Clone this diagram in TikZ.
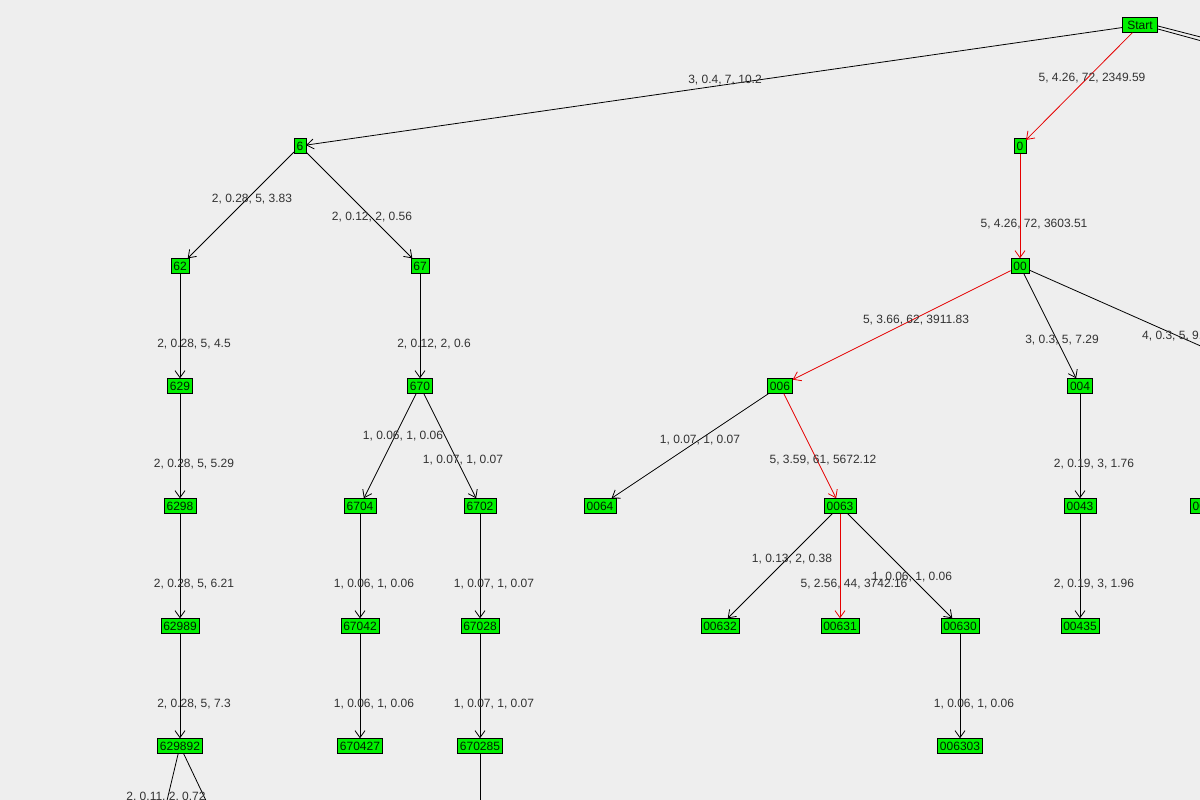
\documentclass[tikz,border=0pt]{standalone}
\usepackage{fontspec}
\setmainfont{Liberation Sans}
\usetikzlibrary{arrows.meta}
\definecolor{bg}{RGB}{238,238,238}
\definecolor{ngreen}{RGB}{0,240,0}
\definecolor{txt}{RGB}{50,50,50}
\begin{document}
\begin{tikzpicture}[x=1pt,y=-1pt,
  nd/.style={draw=black,fill=ngreen,inner xsep=2.5pt,inner ysep=1pt,minimum height=15pt,font=\fontsize{12}{13}\selectfont,text=black!70!green!40!black},
  ed/.style={draw=black,-{Straight Barb[length=7pt,width=10pt]},line width=0.8pt},
  red/.style={draw=red!90!black},
  lb/.style={font=\fontsize{12}{13}\selectfont,text=txt,inner sep=0pt}]
\fill[bg] (0,0) rectangle (1200,800);
\useasboundingbox (0,0) rectangle (1200,800);
\clip (0,0) rectangle (1200,800);
% nodes
\node[nd,inner xsep=5pt] (S) at (1140,25) {Start};
\node[nd] (n6) at (300,146) {6};
\node[nd] (n62) at (180,266) {62};
\node[nd] (n67) at (420,266) {67};
\node[nd] (n629) at (180,386) {629};
\node[nd] (n670) at (420,386) {670};
\node[nd] (n6298) at (180,506) {6298};
\node[nd] (n6704) at (360,506) {6704};
\node[nd] (n6702) at (480,506) {6702};
\node[nd] (n62989) at (180,626) {62989};
\node[nd] (n67042) at (360,626) {67042};
\node[nd] (n67028) at (480,626) {67028};
\node[nd] (n629892) at (180,746) {629892};
\node[nd] (n670427) at (360,746) {670427};
\node[nd] (n670285) at (480,746) {670285};
\node[nd] (n0) at (1020,146) {0};
\node[nd] (n00) at (1020,266) {00};
\node[nd] (n006) at (780,386) {006};
\node[nd] (n004) at (1080,386) {004};
\node[nd] (n0064) at (600,506) {0064};
\node[nd] (n0063) at (840,506) {0063};
\node[nd] (n0043) at (1080,506) {0043};
\node[nd] (nx) at (1206,506) {0053};
\node[nd] (n00632) at (720,626) {00632};
\node[nd] (n00631) at (840,626) {00631};
\node[nd] (n00630) at (960,626) {00630};
\node[nd] (n00435) at (1080,626) {00435};
\node[nd] (n006303) at (960,746) {006303};
\coordinate (r1) at (1220,42);
\coordinate (r2) at (1220,46);
\coordinate (r3) at (1230,359);
\coordinate (b1) at (160,830);
\coordinate (b2) at (220,830);
\coordinate (b3) at (480,830);
% edges
\draw[ed] (S) -- (n6);
\draw[ed,red] (S) -- (n0);
\draw[line width=0.8pt] (S.east) ++(0,1) -- (r1);
\draw[line width=0.8pt] (S.east) ++(0,4) -- (r2);
\draw[ed] (n6) -- (n62);
\draw[ed] (n6) -- (n67);
\draw[ed] (n62) -- (n629);
\draw[ed] (n67) -- (n670);
\draw[ed] (n629) -- (n6298);
\draw[ed] (n670) -- (n6704);
\draw[ed] (n670) -- (n6702);
\draw[ed] (n6298) -- (n62989);
\draw[ed] (n6704) -- (n67042);
\draw[ed] (n6702) -- (n67028);
\draw[ed] (n62989) -- (n629892);
\draw[ed] (n67042) -- (n670427);
\draw[ed] (n67028) -- (n670285);
\draw[line width=0.8pt] (n629892) -- (b1);
\draw[line width=0.8pt] (n629892) -- (b2);
\draw[line width=0.8pt] (n670285) -- (b3);
\draw[ed,red] (n0) -- (n00);
\draw[ed,red] (n00) -- (n006);
\draw[ed] (n00) -- (n004);
\draw[line width=0.8pt] (n00) -- (r3);
\draw[ed] (n006) -- (n0064);
\draw[ed,red] (n006) -- (n0063);
\draw[ed] (n004) -- (n0043);
\draw[ed] (n0063) -- (n00632);
\draw[ed,red] (n0063) -- (n00631);
\draw[ed] (n0063) -- (n00630);
\draw[ed] (n0043) -- (n00435);
\draw[ed] (n00630) -- (n006303);
% labels
\node[lb] (l1) at (725,80) {3, 0.4, 7, 10.2};
\node[lb] (l2) at (1092,78) {5, 4.26, 72, 2349.59};
\node[lb] (l3) at (252,199) {2, 0.28, 5, 3.83};
\node[lb] (l4) at (372,217) {2, 0.12, 2, 0.56};
\node[lb] (l5) at (194,344) {2, 0.28, 5, 4.5};
\node[lb] (l6) at (434,344) {2, 0.12, 2, 0.6};
\node[lb] (l7) at (194,464) {2, 0.28, 5, 5.29};
\node[lb] (l8) at (403,436) {1, 0.06, 1, 0.06};
\node[lb] (l9) at (463,460) {1, 0.07, 1, 0.07};
\node[lb] (l10) at (194,584) {2, 0.28, 5, 6.21};
\node[lb] (l11) at (374,584) {1, 0.06, 1, 0.06};
\node[lb] (l12) at (494,584) {1, 0.07, 1, 0.07};
\node[lb] (l13) at (194,704) {2, 0.28, 5, 7.3};
\node[lb] (l14) at (374,704) {1, 0.06, 1, 0.06};
\node[lb] (l15) at (494,704) {1, 0.07, 1, 0.07};
\node[lb] (l16) at (166,797) {2, 0.11, 2, 0.72};
\node[lb] (l17) at (1034,224) {5, 4.26, 72, 3603.51};
\node[lb] (l18) at (916,320) {5, 3.66, 62, 3911.83};
\node[lb] (l19) at (1062,340) {3, 0.3, 5, 7.29};
\node[lb,anchor=west] (l20) at (1142,336) {4, 0.3, 5, 9.21};
\node[lb] (l21) at (700,440) {1, 0.07, 1, 0.07};
\node[lb] (l22) at (823,460) {5, 3.59, 61, 5672.12};
\node[lb] (l23) at (1094,464) {2, 0.19, 3, 1.76};
\node[lb] (l24) at (792,559) {1, 0.13, 2, 0.38};
\node[lb] (l25) at (854,584) {5, 2.56, 44, 3742.16};
\node[lb] (l26) at (912,577) {1, 0.06, 1, 0.06};
\node[lb] (l27) at (1094,584) {2, 0.19, 3, 1.96};
\node[lb] (l28) at (974,704) {1, 0.06, 1, 0.06};
\end{tikzpicture}
\end{document}
